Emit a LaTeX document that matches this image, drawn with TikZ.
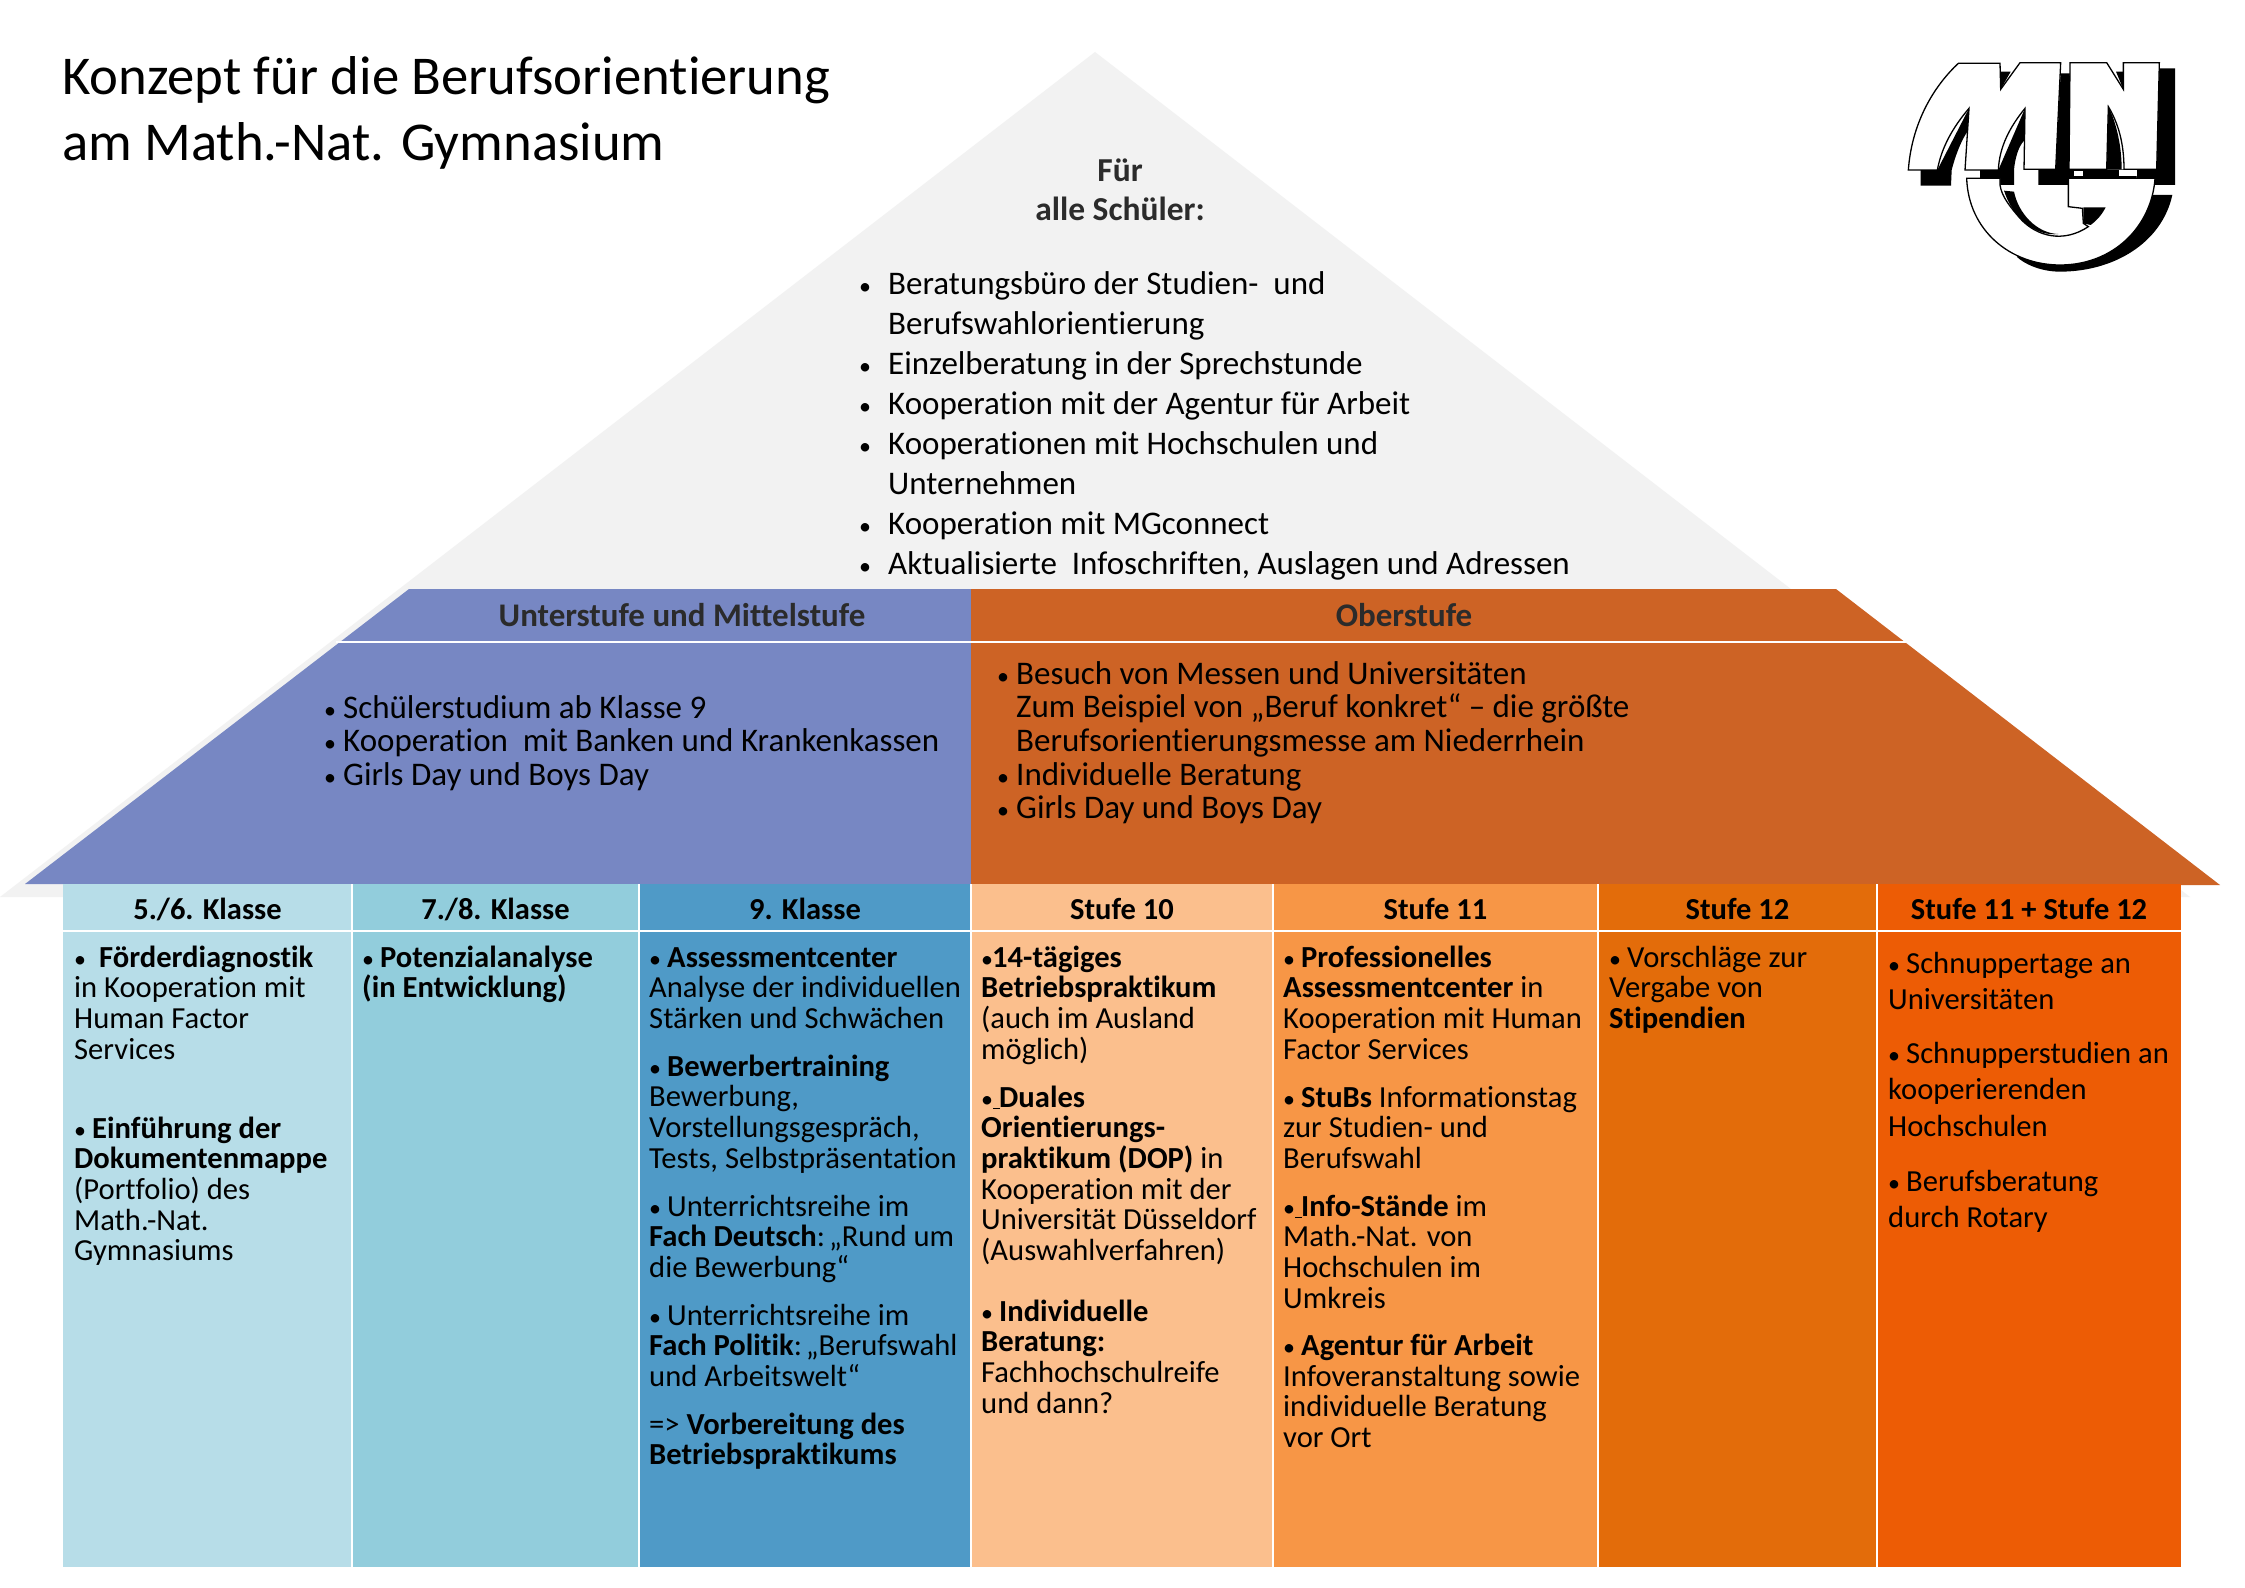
\documentclass[tikz,border=0pt]{standalone}
\usepackage{fontspec}
\setmainfont[Ligatures=NoCommon]{Carlito}
\newcommand\tightlines{\lineskiplimit=-100pt\relax}
\definecolor{roofgray}{HTML}{F2F2F2}
\definecolor{roofblue}{HTML}{7787C3}
\definecolor{rooforange}{HTML}{CD6325}
\definecolor{cola}{HTML}{B7DDE8}
\definecolor{colb}{HTML}{92CDDC}
\definecolor{colc}{HTML}{4F9AC7}
\definecolor{cold}{HTML}{FBBF8D}
\definecolor{cole}{HTML}{F79646}
\definecolor{colf}{HTML}{E36C0A}
\definecolor{colg}{HTML}{ED5C05}
\definecolor{headgray}{HTML}{2B2B2B}
\newcommand\bull{{\fontsize{24}{24}\selectfont •}}
\newcommand\bl[1][18]{\makebox[#1pt][l]{\bull}}
\newcommand\blu[1][18]{\makebox[#1pt][l]{\bull\underline{\hspace{7pt}}}}
\newcommand\para[5][30.6]{\parax{#1}{30.6}{#2}{#3}{#4}{#5}}
\newcommand\parax[6]{%
  \node[paratext,font=\fontsize{#2}{#1}\selectfont\tightlines] (#3) at ({#4},{#5-33}) {\rule{0pt}{34pt}#6};}
\newcommand\colcell[5]{%
  \fill[#4] (#2,884) rectangle (#3,1567);
  \node[headtext] (#1) at ({(#2+#3)/2},919) {#5};}
\tikzset{
  paratext/.style={anchor=north west,inner sep=0pt,align=left,text=black},
  headtext/.style={anchor=base,inner sep=0pt,font=\fontsize{30.5}{34}\selectfont\bfseries,text=black},
  rooftext/.style={anchor=base,inner sep=0pt,font=\fontsize{33}{36}\selectfont\bfseries,text=headgray},
  rule/.style={white,line width=1.1pt},
  logoline/.style={draw=black,fill=white,line width=1.3pt,line join=miter},
}
\begin{document}
\begin{tikzpicture}[x=1pt,y=-1pt]
\useasboundingbox (0,0) rectangle (2245,1587);
\fill[white] (0,0) rectangle (2245,1587);
% roof
\fill[roofgray] (1095,52) -- (0,897) -- (2190,897) -- cycle;
\fill[roofblue] (409,589) -- (971,589) -- (971,884) -- (25,884) -- cycle;
\fill[rooforange] (971,589) -- (1836,589) -- (2220,885) -- (971,885) -- cycle;
\draw[rule] (336,642) -- (1906,642);
% table
\colcell{ha}{63}{352}{cola}{5./6. Klasse}
\colcell{hb}{352}{639}{colb}{7./8. Klasse}
\colcell{hc}{639}{971}{colc}{9. Klasse}
\colcell{hd}{971}{1273}{cold}{Stufe 10}
\colcell{he}{1273}{1598}{cole}{Stufe 11}
\colcell{hf}{1598}{1877}{colf}{Stufe 12}
\colcell{hg}{1877}{2181}{colg}{Stufe 11 + Stufe 12}
\draw[rule] (63,931) -- (2181,931);
\foreach \xx in {352,639,971,1273,1598,1877} \draw[rule] (\xx,884) -- (\xx,1567);
% title
\node[paratext,font=\fontsize{54.7}{66}\selectfont] (title) at (62,44.5) {\rule{0pt}{50pt}Konzept für die Berufsorientierung\\am Math.-Nat. Gymnasium};
% roof text
\node[anchor=north,inner sep=0pt,text=headgray,align=center,font=\fontsize{33.5}{39}\selectfont\bfseries\tightlines] (fuer) at (1120,147) {\rule{0pt}{34pt}Für\\alle Schüler:};
\parax{40}{33}{allg}{859}{293}{\bl[29]Beratungsbüro der Studien-~ und\\\hspace*{29pt}Berufswahlorientierung\\\bl[29]Einzelberatung in der Sprechstunde\\\bl[29]Kooperation mit der Agentur für Arbeit\\\bl[29]Kooperationen mit Hochschulen und\\\hspace*{29pt}Unternehmen\\\bl[29]Kooperation mit MGconnect\\\bl[29]Aktualisierte~ Infoschriften, Auslagen und Adressen}
\node[rooftext] (unter) at (682,626) {Unterstufe und Mittelstufe};
\node[rooftext] (ober) at (1404,626) {Oberstufe};
\parax{33.6}{33}{mleft}{324}{717}{\bl[19]Schülerstudium ab Klasse 9\\\bl[19]Kooperation~ mit Banken und Krankenkassen\\\bl[19]Girls Day und Boys Day}
\parax{33.6}{33}{mright}{997}{683}{\bl[19]Besuch von Messen und Universitäten\\\hspace*{19pt}Zum Beispiel von „Beruf konkret“ – die größte\\\hspace*{19pt}Berufsorientierungsmesse am Niederrhein\\\bl[19]Individuelle Beratung\\\bl[19]Girls Day und Boys Day}
% column 1
\para{aa}{74}{966}{\bl[25]\textbf{Förderdiagnostik}\\in Kooperation mit\\Human Factor\\Services}
\para{ab}{74}{1137}{\bl[18]\textbf{Einführung der}\\\textbf{Dokumentenmappe}\\(Portfolio) des\\Math.-Nat.\\Gymnasiums}
% column 2
\para{ba}{362}{966}{\bl\textbf{Potenzialanalyse}\\\textbf{(in Entwicklung)}}
% column 3
\para{ca}{649}{966}{\bl\textbf{Assessmentcenter}\\Analyse der individuellen\\Stärken und Schwächen}
\para{cb}{649}{1075}{\bl\textbf{Bewerbertraining}\\Bewerbung,\\Vorstellungsgespräch,\\Tests, Selbstpräsentation}
\para{cc}{649}{1215}{\bl Unterrichtsreihe im\\\textbf{Fach Deutsch}:\hspace{4pt}„Rund um\\die Bewerbung“}
\para{cd}{649}{1324}{\bl Unterrichtsreihe im\\\textbf{Fach Politik}:\hspace{4pt}„Berufswahl\\und Arbeitswelt“}
\para{ce}{649}{1433}{=> \textbf{Vorbereitung des}\\\textbf{Betriebspraktikums}}
% column 4
\para{da}{981}{966}{\bl[11]\textbf{14-tägiges}\\\textbf{Betriebspraktikum}\\(auch im Ausland\\möglich)}
\para{db}{981}{1106}{\blu\textbf{Duales}\\\textbf{Orientierungs-}\\\textbf{praktikum (DOP)} in\\Kooperation mit der\\Universität Düsseldorf\\(Auswahlverfahren)}
\para{dc}{981}{1320}{\bl\textbf{Individuelle}\\\textbf{Beratung:}\\Fachhochschulreife\\und dann?}
% column 5
\para{ea}{1283}{966}{\bl\textbf{Professionelles}\\\textbf{Assessmentcenter} in\\Kooperation mit Human\\Factor Services}
\para{eb}{1283}{1106}{\bl\textbf{StuBs} Informationstag\\zur Studien- und\\Berufswahl}
\para{ec}{1283}{1215}{\blu\textbf{Info-Stände} im\\Math.-Nat. von\\Hochschulen im\\Umkreis}
\para{ed}{1283}{1354.5}{\bl\textbf{Agentur für Arbeit}\\Infoveranstaltung sowie\\individuelle Beratung\\vor Ort}
% column 6
\para{fa}{1609}{966}{\bl Vorschläge zur\\Vergabe von\\\textbf{Stipendien}}
% column 7
\para[36.5]{ga}{1888}{972}{\bl Schnuppertage an\\Universitäten}
\para[36.5]{gb}{1888}{1062}{\bl Schnupperstudien an\\kooperierenden\\Hochschulen}
\para[36.5]{gc}{1888}{1190}{\bl Berufsberatung\\durch Rotary}
% logo
\begin{scope}[shift={(1850,30)},x=0.33333pt,y=-0.33333pt]
\fill[black] (212,420) -- (212,467) -- (303,467) -- (305,420) .. controls (318,370) and (335,330) .. (352,305) -- (357,235) -- (262,420) -- cycle;
\fill[black] (390,420) -- (390,445) -- (450,445) -- (450,465) -- (492,465) -- (492,420) .. controls (495,385) and (505,350) .. (522,332) -- (525,235) -- (445,420) -- cycle;
\fill[black] (450,125) -- (482,125) -- (452,178) -- cycle;
\fill[black] (632,130) -- (660,130) -- (657,418) -- (860,418) -- (860,445) -- (655,445) -- (655,465) -- (565,465) -- (565,418) -- (617,418) -- cycle;
\fill[black] (775,230) -- (770,418) -- (815,418) .. controls (815,350) and (800,280) .. (775,230) -- cycle;
\fill[black] (798,125) -- (820,125) -- (820,178) -- cycle;
\fill[black] (928,115) -- (975,115) -- (975,465) -- (900,465) -- (860,445) -- (860,418) -- (920,418) -- cycle;
\fill[white] (672,423) rectangle (700,438);
\fill[white] (808,421) rectangle (860,438);
\fill[black] (905,495) -- (967,495) .. controls (935,640) and (790,725) .. (630,725) .. controls (570,725) and (520,700) .. (500,680) -- (700,600) -- cycle;
\path[logoline] (175,420) .. controls (185,280) and (250,170) .. (325,100) -- (450,100) -- (452,178) -- (510,98) -- (632,98) -- (617,418) -- (522,418) -- (525,235) .. controls (480,290) and (448,350) .. (445,420) -- (345,420) -- (357,235) .. controls (310,290) and (275,350) .. (262,420) -- cycle;
\path[logoline] (660,98) -- (770,98) -- (820,178) -- (820,98) -- (928,98) -- (920,418) -- (822,418) .. controls (822,340) and (805,280) .. (775,230) -- (770,418) -- (657,418) -- cycle;
\path[logoline] (350,445) .. controls (355,600) and (480,705) .. (630,705) .. controls (790,705) and (905,590) .. (915,445) -- (655,445) -- (655,530) -- (697,535) -- (700,580) -- (715,590) .. controls (640,640) and (560,620) .. (510,565) .. controls (480,530) and (455,500) .. (450,465) -- (450,445) -- cycle;
\fill[black] (462,482) -- (492,485) .. controls (505,550) and (560,610) .. (625,612) .. controls (560,620) and (490,570) .. (462,482) -- cycle;
\fill[black] (700,532) -- (767,532) .. controls (755,555) and (740,572) .. (722,585) -- (700,580) -- cycle;
\end{scope}
\end{tikzpicture}
\end{document}
